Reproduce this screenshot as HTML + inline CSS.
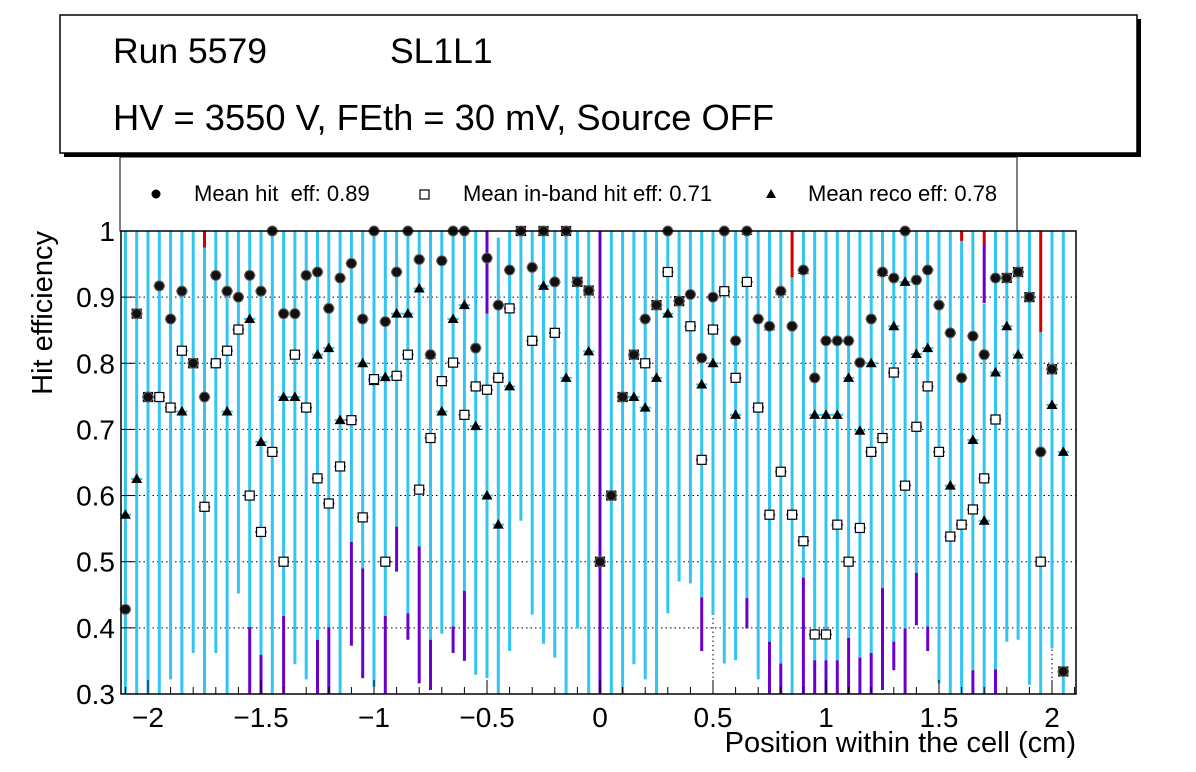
<!DOCTYPE html>
<html><head><meta charset="utf-8"><style>
html,body{margin:0;padding:0;background:#fff;}
svg{display:block;font-family:"Liberation Sans",sans-serif;}
</style></head><body>
<svg id="chart" width="1196" height="772" viewBox="0 0 1196 772">
<rect x="64" y="19" width="1077" height="138" fill="#000"/>
<rect x="60" y="15" width="1077" height="138" fill="#fff" stroke="#000" stroke-width="1.5"/>
<text x="113" y="63" font-size="35.5">Run 5579</text>
<text x="390" y="63" font-size="35.5">SL1L1</text>
<text x="113" y="130" font-size="36.3">HV = 3550 V, FEth = 30 mV, Source OFF</text>
<rect x="120" y="157" width="897" height="74" fill="#fff" stroke="#000" stroke-width="1"/>
<g>
<circle cx="156" cy="194" r="4.5" fill="#000"/>
<text x="194" y="201" font-size="22" xml:space="preserve" style="white-space:pre">Mean hit  eff: 0.89</text></g>
<g>
<rect x="420" y="190" width="9" height="9" fill="#fff" stroke="#000" stroke-width="1.2"/>
<text x="463" y="201" font-size="22">Mean in-band hit eff: 0.71</text></g>
<g>
<path d="M771,189 L776,198 L766,198 Z" fill="#000"/>
<text x="808" y="201" font-size="22">Mean reco eff: 0.78</text></g>
<g id="plot"></g>
<text x="1076" y="752" font-size="29" text-anchor="end">Position within the cell (cm)</text>
<text transform="translate(52,231) rotate(-90)" font-size="29" text-anchor="end">Hit efficiency</text>
</svg>
<script>
const hitEff=[0.428,0.875,0.749,0.917,0.867,0.909,0.80,0.749,0.933,0.909,0.90,0.933,0.909,1.0,0.875,0.875,0.933,0.938,0.883,0.929,0.951,0.867,1.0,0.863,0.938,1.0,0.957,0.813,0.955,1.0,1.0,0.823,0.959,0.888,0.941,1.0,0.945,1.0,0.923,1.0,0.923,0.910,0.50,0.60,0.749,0.813,0.867,0.888,1.0,0.894,0.904,0.808,0.90,1.0,0.834,1.0,0.867,0.856,0.909,0.856,0.941,0.778,0.834,0.834,0.834,0.801,0.867,0.938,0.929,1.0,0.926,0.941,0.888,0.846,0.778,0.841,0.813,0.929,0.929,0.938,0.90,0.666,0.791,0.334];
const inbandEff=[null,0.875,0.749,0.749,0.733,0.819,0.80,0.583,0.80,0.819,0.851,0.60,0.545,0.666,0.50,0.813,0.733,0.626,0.588,0.644,0.714,0.567,0.776,0.50,0.781,0.813,0.609,0.687,0.773,0.801,0.722,0.765,0.760,0.778,0.883,1.0,0.834,1.0,0.846,1.0,0.923,0.910,0.50,0.60,0.749,0.813,0.80,0.888,0.938,0.894,0.856,0.654,0.851,0.909,0.778,0.923,0.733,0.571,0.636,0.571,0.531,0.39,0.39,0.556,0.50,0.551,0.666,0.687,0.786,0.615,0.704,0.765,0.666,0.538,0.556,0.579,0.626,0.715,0.929,0.938,0.90,0.50,0.791,0.334];
const recoEff=[0.571,0.625,0.749,0.749,0.733,0.727,0.80,0.583,0.80,0.727,0.851,0.867,0.681,null,0.749,0.749,0.733,0.813,0.823,0.714,0.714,0.80,0.773,0.779,0.875,0.875,0.913,0.813,0.727,0.867,0.888,0.705,0.60,0.556,0.765,1.0,0.834,0.917,0.846,0.778,0.923,0.818,0.50,0.60,0.749,0.749,0.733,0.778,0.875,0.894,0.856,0.768,0.80,0.909,0.722,1.0,0.733,0.856,0.909,0.571,0.941,0.722,0.722,0.722,0.778,0.698,0.80,0.938,0.856,0.923,0.814,0.823,0.666,0.615,0.556,0.684,0.562,0.786,0.856,0.813,0.90,0.50,0.737,0.666];
const recoErrLo=[0.3,0.3,0.3,0.3,0.322,0.3,0.362,0.3,0.362,0.3,0.452,0.401,0.359,0.3,0.418,0.345,0.322,0.382,0.401,0.3,0.530,0.490,0.311,0.418,0.553,0.422,0.523,0.382,0.391,0.402,0.456,0.329,0.324,0.3,0.365,0.562,0.42,0.376,0.355,0.3,0.399,0.3,null,0.3,0.3,0.345,0.322,0.3,0.422,0.47,0.467,0.446,0.42,0.346,0.351,0.445,0.322,0.379,0.346,0.3,0.476,0.351,0.351,0.351,0.385,0.355,0.362,0.46,0.379,0.399,0.483,0.402,0.316,0.3,0.3,0.336,0.3,0.337,0.379,0.382,0.314,0.3,0.369,0.3];
const recoErrHi=[1,1,1,1,1,1,1,0.975,1,1,1,1,1,1,1,1,1,1,1,1,1,1,1,1,1,1,1,1,1,1,1,1,0.875,0.99,1,1,1,1,1,1,1,1,null,1,1,1,1,1,1,1,1,1,1,1,1,1,1,1,1,0.93,1,1,1,1,1,1,1,1,1,1,1,1,1,1,0.985,1,0.89,1,1,1,1,0.847,1,1];
const purpleBins=[11,12,14,17,18,20,21,23,24,25,26,27,29,30,32,42,51,55,57,58,60,61,62,63,64,65,66,67,68,69,70,71,75,76,77];
const purpleLo=[0.3,0.3,0.3,0.3,0.3,0.373,0.324,0.3,0.485,0.382,0.316,0.306,0.362,0.350,0.875,0.3,0.365,0.399,0.3,0.3,0.3,0.3,0.3,0.3,0.3,0.3,0.3,0.306,0.336,0.3,0.404,0.365,0.3,0.891,0.3];
const purpleHi=[0.401,0.359,0.418,0.382,0.401,0.530,0.490,0.418,0.553,0.422,0.523,0.382,0.402,0.456,1.0,1.0,0.446,0.445,0.379,0.346,0.476,0.351,0.351,0.351,0.385,0.355,0.362,0.46,0.379,0.399,0.483,0.402,0.336,0.981,0.337];
const redBins=[7,59,74,76,81];
const redLo=[0.975,0.93,0.985,0.98,0.847];
const yTicks=[0.3,0.4,0.5,0.6,0.7,0.8,0.9,1];
const yTickLabels=["0.3","0.4","0.5","0.6","0.7","0.8","0.9","1"];
const xTicks=[-2,-1.5,-1,-0.5,0,0.5,1,1.5,2];
const xTickLabels=["\u22122","\u22121.5","\u22121","\u22120.5","0","0.5","1","1.5","2"];
const xStart=-2.1, binW=0.05;

const L=121,R=1076,T=231,B=694;
const X=v=>148+(v+2)*226;
const Y=v=>231+(1-v)*661.4;
const clamp=v=>Math.max(0.3,Math.min(1,v));
const NS="http://www.w3.org/2000/svg";
const plot=document.getElementById('plot');
function mk(tag,attrs,parent){const e=document.createElementNS(NS,tag);for(const k in attrs)e.setAttribute(k,attrs[k]);(parent||plot).appendChild(e);return e;}

const frameBg=mk('rect',{x:L,y:T,width:R-L,height:B-T,fill:'#fff'});


const grid=mk('g',{stroke:'#000','stroke-width':1,'stroke-dasharray':'1.5,3'});


yTicks.forEach(v=>{if(v>0.3&&v<1)mk('line',{x1:L,x2:R,y1:Y(v),y2:Y(v)},grid);});
xTicks.forEach(v=>mk('line',{x1:X(v),x2:X(v),y1:T,y2:B},grid));

const n=hitEff.length;
const errs=mk('g',{});


for(let i=0;i<n;i++){
  const x=X(xStart+i*binW);
  if(recoErrLo[i]!==null){
    const l=mk('line',{x1:x,x2:x,y1:Y(clamp(recoErrHi[i])),y2:Y(clamp(recoErrLo[i])),stroke:'#33c5f2','stroke-width':3},errs);
    
    
  }
}
purpleBins.forEach((b,k)=>{
  const x=X(xStart+b*binW);
  const l=mk('line',{x1:x,x2:x,y1:Y(clamp(purpleHi[k])),y2:Y(clamp(purpleLo[k])),stroke:'#6a00cc','stroke-width':3},errs);
  
  
});
redBins.forEach((b,k)=>{
  const x=X(xStart+b*binW);
  const l=mk('line',{x1:x,x2:x,y1:Y(1),y2:Y(redLo[k]),stroke:'#d40000','stroke-width':3},errs);
  
  
});
const hw=binW*226/2;
const mg=mk('g',{});


for(let i=0;i<n;i++){
  const x=X(xStart+i*binW);
  if(recoEff[i]!==null&&recoEff[i]>=0.3){
    const y=Y(recoEff[i]);
    mk('line',{x1:x-hw,x2:x+hw,y1:y,y2:y,stroke:'#33c5f2','stroke-width':2},mg);
    const t=mk('path',{d:`M${x},${y-5.5} L${x+5.5},${y+4} L${x-5.5},${y+4} Z`,fill:'#000'},mg);
    
    
  }
  if(inbandEff[i]!==null&&inbandEff[i]>=0.3){
    const y=Y(inbandEff[i]);
    mk('line',{x1:x-hw,x2:x+hw,y1:y,y2:y,stroke:'#6a00cc','stroke-width':2},mg);
    const s=mk('rect',{x:x-4.5,y:y-4.5,width:9,height:9,fill:'#fff',stroke:'#000','stroke-width':1.2},mg);
    
    
  }
  if(hitEff[i]!==null&&hitEff[i]>=0.3){
    const y=Y(hitEff[i]);
    mk('line',{x1:x-hw,x2:x+hw,y1:y,y2:y,stroke:'#d40000','stroke-width':2},mg);
    const c=mk('circle',{cx:x,cy:y,r:5,fill:'#111',stroke:'#666','stroke-width':1},mg);
    
    
  }
}
const frame=mk('rect',{x:L,y:T,width:R-L,height:B-T,fill:'none',stroke:'#000','stroke-width':1.5});


const ticks=mk('g',{stroke:'#000','stroke-width':1});


for(let k=-21;k<=21;k++){const v=k/10;const x=X(v);if(x<L||x>R)continue;
  const major=Math.abs(v*2-Math.round(v*2))<1e-6;
  mk('line',{x1:x,x2:x,y1:B,y2:B-(major?14:7)},ticks);}
yTicks.forEach(v=>mk('line',{x1:L,x2:L+14,y1:Y(v),y2:Y(v)},ticks));
const lab=mk('g',{'font-size':28,fill:'#000'});


yTicks.forEach((v,k)=>{const t=mk('text',{x:115,y:Y(v)+10,'text-anchor':'end'},lab);t.textContent=yTickLabels[k];
  
  });
xTicks.forEach((v,k)=>{const t=mk('text',{x:X(v),y:727,'text-anchor':'middle'},lab);t.textContent=xTickLabels[k];
  
  });
</script>
</body></html>
